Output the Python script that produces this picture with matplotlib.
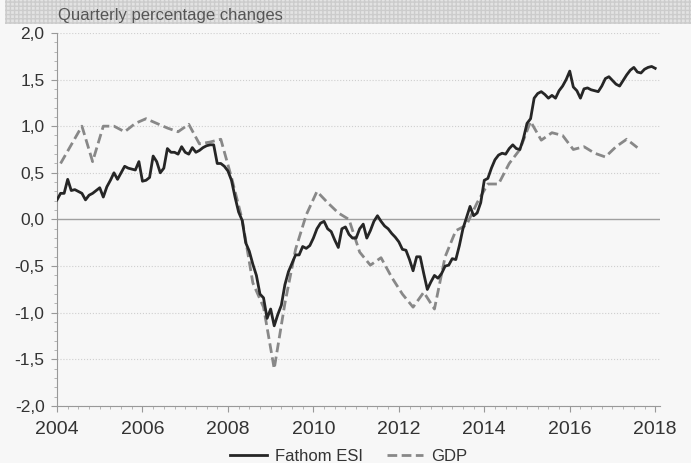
import matplotlib
matplotlib.use("Agg")
import matplotlib.pyplot as plt
from matplotlib.patches import Rectangle
from matplotlib.ticker import MultipleLocator, FuncFormatter
import numpy as np

# Fathom ESI, monthly from Jan 2004 to Jan 2018
esi = [
    0.21, 0.28, 0.28, 0.43, 0.31, 0.32, 0.30, 0.28, 0.21, 0.26, 0.28, 0.31,
    0.34, 0.24, 0.35, 0.42, 0.50, 0.43, 0.50, 0.57, 0.55, 0.54, 0.53, 0.62,
    0.41, 0.42, 0.45, 0.68, 0.62, 0.50, 0.55, 0.76, 0.72, 0.72, 0.70, 0.78,
    0.72, 0.70, 0.77, 0.72, 0.74, 0.77, 0.79, 0.80, 0.80, 0.60, 0.60, 0.57,
    0.52, 0.42, 0.24, 0.08, -0.01, -0.25, -0.34, -0.48, -0.60, -0.80, -0.84, -1.06,
    -0.96, -1.14, -1.02, -0.92, -0.70, -0.56, -0.47, -0.38, -0.38, -0.29, -0.31, -0.28,
    -0.20, -0.10, -0.04, -0.02, -0.10, -0.13, -0.22, -0.30, -0.10, -0.08, -0.16, -0.20,
    -0.20, -0.10, -0.05, -0.20, -0.12, -0.02, 0.04, -0.02, -0.07, -0.10, -0.15, -0.19,
    -0.24, -0.32, -0.33, -0.43, -0.55, -0.40, -0.40, -0.58, -0.75, -0.67, -0.60, -0.63,
    -0.58, -0.50, -0.49, -0.42, -0.43, -0.28, -0.10, 0.02, 0.14, 0.04, 0.07, 0.18,
    0.42, 0.44, 0.55, 0.64, 0.69, 0.71, 0.70, 0.76, 0.80, 0.76, 0.75, 0.87,
    1.03, 1.08, 1.30, 1.35, 1.37, 1.34, 1.30, 1.33, 1.30, 1.38, 1.43, 1.50,
    1.59, 1.42, 1.38, 1.30, 1.40, 1.41, 1.39, 1.38, 1.37, 1.43, 1.51, 1.53,
    1.49, 1.45, 1.43, 1.49, 1.55, 1.60, 1.63, 1.58, 1.57, 1.61, 1.63, 1.64,
    1.62,
]

# GDP, quarterly from 2004Q1 to 2017Q3
gdp = [
    0.60, 0.80, 1.00, 0.62, 1.00, 1.00, 0.94, 1.03,
    1.08, 1.03, 0.98, 0.94, 1.02, 0.81, 0.83, 0.86,
    0.45, 0.00, -0.68, -0.94, -1.60, -0.90, -0.32, 0.05,
    0.30, 0.18, 0.07, 0.00, -0.35, -0.49, -0.41, -0.62,
    -0.80, -0.94, -0.78, -0.96, -0.40, -0.12, -0.06, 0.18,
    0.38, 0.38, 0.60, 0.75, 1.05, 0.85, 0.93, 0.90,
    0.75, 0.78, 0.71, 0.67, 0.78, 0.86, 0.77,
]

esi_x = 2004 + np.arange(len(esi)) / 12.0
gdp_x = 2004 + (np.arange(len(gdp)) * 3 + 1) / 12.0

plt.rcParams['font.family'] = ['Liberation Sans', 'DejaVu Sans']

bg = '#f7f7f7'
fig = plt.figure(figsize=(6.91, 4.63), dpi=100, facecolor=bg)
ax = fig.add_axes([0.0825, 0.123, 0.8725, 0.806])
ax.set_facecolor(bg)

# header band
band = Rectangle((0.007, 0.948), 0.993, 0.052, transform=fig.transFigure,
                 facecolor='#e3e3e3', edgecolor='#cccccc', hatch='++++',
                 linewidth=0, zorder=0)
fig.patches.append(band)
fig.text(0.084, 0.966, 'Quarterly percentage changes', fontsize=12,
         color='#555555', va='center', ha='left')

for yv in [-2.0, -1.5, -1.0, -0.5, 0.5, 1.0, 1.5, 2.0]:
    ax.axhline(yv, color='#cfcfcf', linewidth=0.8, linestyle=':', zorder=1)
ax.axhline(0, color='#a0a0a0', linewidth=1.0, zorder=1)

ax.plot(esi_x, esi, color='#262626', linewidth=2.0, label='Fathom ESI', zorder=3)
ax.plot(gdp_x, gdp, color='#888888', linewidth=2.0, linestyle=(0, (3.5, 1.6)),
        label='GDP', zorder=2)

ax.set_xlim(2004, 2018.11)
ax.set_ylim(-2.0, 2.0)
ax.xaxis.set_major_locator(MultipleLocator(2))
ax.xaxis.set_minor_locator(MultipleLocator(0.25))
ax.yaxis.set_major_locator(MultipleLocator(0.5))
ax.yaxis.set_minor_locator(MultipleLocator(0.1))
ax.yaxis.set_major_formatter(FuncFormatter(lambda v, p: ('%.1f' % v).replace('.', ',')))
ax.xaxis.set_major_formatter(FuncFormatter(lambda v, p: '%d' % round(v)))

for s in ['top', 'right']:
    ax.spines[s].set_visible(False)
for s in ['left', 'bottom']:
    ax.spines[s].set_color('#999999')
    ax.spines[s].set_linewidth(0.8)
ax.tick_params(which='major', length=4, width=0.8, color='#999999',
               labelcolor='#333333')
ax.tick_params(which='minor', length=2, width=0.6, color='#aaaaaa')
ax.tick_params(axis='x', labelsize=14, pad=7)
ax.tick_params(axis='y', labelsize=12.5, pad=5)

leg = fig.legend(loc='center', bbox_to_anchor=(0.505, 0.014), ncol=2,
                 frameon=False, fontsize=12, handlelength=2.2,
                 columnspacing=1.4, handletextpad=0.5)
for t in leg.get_texts():
    t.set_color('#333333')

fig.savefig('out.png', dpi=100, facecolor=bg)
